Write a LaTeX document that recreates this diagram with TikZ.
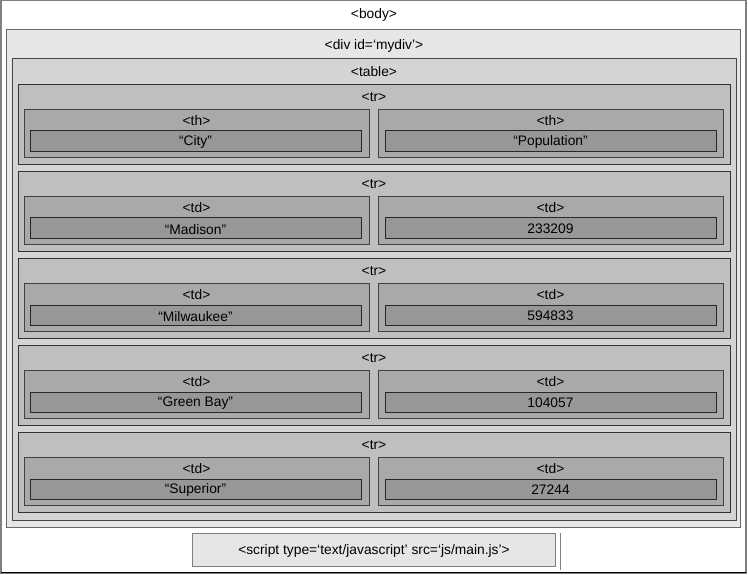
\documentclass[tikz,border=0pt]{standalone}
\usepackage{fontspec}
\setmainfont{Liberation Sans}
\definecolor{bodyline}{RGB}{128,128,128}
\definecolor{divfill}{RGB}{230,230,230}
\definecolor{divline}{RGB}{105,105,105}
\definecolor{tablefill}{RGB}{211,212,214}
\definecolor{tableline}{RGB}{70,70,70}
\definecolor{trfill}{RGB}{190,191,193}
\definecolor{trline}{RGB}{50,50,50}
\definecolor{tdfill}{RGB}{168,169,171}
\definecolor{tdline}{RGB}{65,65,65}
\definecolor{infill}{RGB}{150,151,153}
\definecolor{inline}{RGB}{40,40,40}
\begin{document}
\begin{tikzpicture}[x=1pt,y=-1pt,
  lbl/.style={font=\fontsize{13.8}{16}\selectfont, inner sep=0pt, yshift=-1pt},
  box/.style={rectangle, inner sep=0pt, outer sep=0pt, anchor=north west, line width=1pt},
  bodybox/.style={box, draw=bodyline, fill=white, line width=1.5pt},
  divbox/.style={box, draw=divline, fill=divfill},
  tablebox/.style={box, draw=tableline, fill=tablefill},
  trbox/.style={box, draw=trline, fill=trfill},
  tdbox/.style={box, draw=tdline, fill=tdfill},
  inbox/.style={box, draw=inline, fill=infill},
  scriptbox/.style={box, draw=bodyline, fill=divfill}]
\useasboundingbox (0,0) rectangle (748,575);
\node[bodybox, minimum width=745, minimum height=572] (body) at (0.75,0.75) {};
\draw[black, line width=1.2pt] (body.south west) -- (body.south east);
\node[lbl] (bodylbl) at (374,14) {<body>};
\node[divbox, minimum width=733.5, minimum height=497] (div) at (6.7,30) {};
\node[lbl] (divlbl) at (374,45) {<div id=‘mydiv’>};
\node[tablebox, minimum width=724.4, minimum height=462] (table) at (12.3,58.3) {};
\node[lbl] (tablelbl) at (374,71) {<table>};
\foreach \i/\tg/\a/\b in {0/th/“City”/“Population”,1/td/“Madison”/233209,2/td/“Milwaukee”/594833,3/td/“Green Bay”/104057,4/td/“Superior”/27244}{
  \pgfmathsetmacro{\ty}{84.3+87*\i}
  \node[trbox, minimum width=711.7, minimum height=80] (tr\i) at (18.3,\ty) {};
  \node[lbl] (trlbl\i) at (374,\ty+12) {<tr>};
  \node[tdbox, minimum width=344.7, minimum height=48.5] (tdl\i) at (24.3,\ty+25) {};
  \node[tdbox, minimum width=345, minimum height=48.5] (tdr\i) at (378,\ty+25) {};
  \node[lbl] (tdllbl\i) at (196.5,\ty+35) {<\tg>};
  \node[lbl] (tdrlbl\i) at (550.5,\ty+35) {<\tg>};
  \node[inbox, minimum width=331, minimum height=20.3] (inl\i) at (30,\ty+46.7) {};
  \node[inbox, minimum width=331, minimum height=20.3] (inr\i) at (385,\ty+46.7) {};
  \node[lbl] (inllbl\i) at (inl\i.center) {\a};
  \node[lbl] (inrlbl\i) at (inr\i.center) {\b};
}
\node[scriptbox, minimum width=363, minimum height=33] (script) at (192.5,533.5) {};
\node[lbl] (scriptlbl) at (script.center) {<script type=‘text/javascript’ src=‘js/main.js’>};
\coordinate (sl1) at (560,533);
\coordinate (sl2) at (560,570);
\draw[bodyline, line width=1pt] (sl1) -- (sl2);
\end{tikzpicture}
\end{document}
